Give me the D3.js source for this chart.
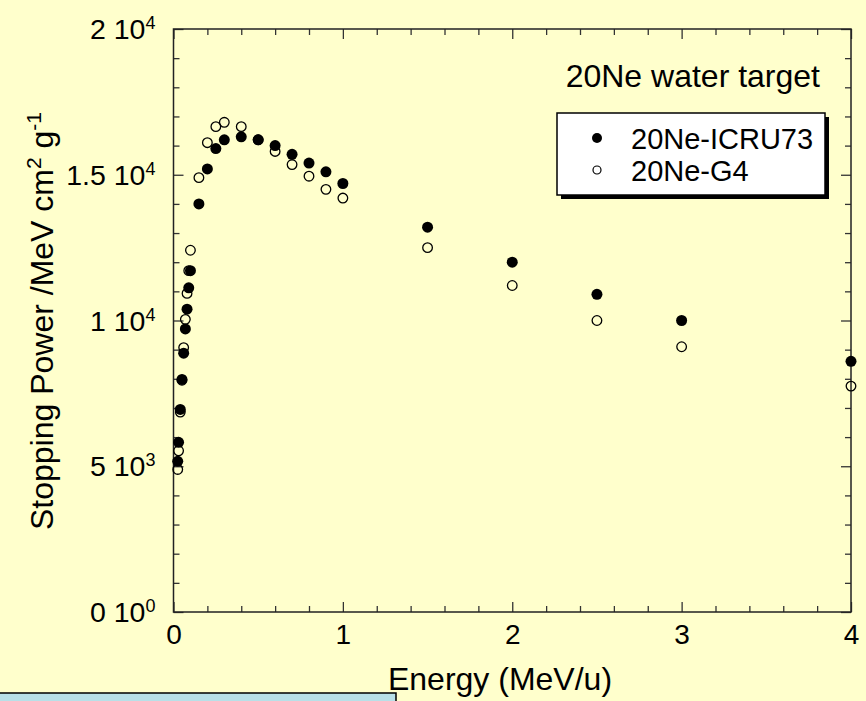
<!DOCTYPE html>
<html>
<head>
<meta charset="utf-8">
<script src="https://cdn.jsdelivr.net/npm/d3@7"></script>
<style>
  html, body { margin: 0; padding: 0; background: #FFFFCC; }
  svg { display: block; }
  text { font-family: "Liberation Sans", Arial, Helvetica, sans-serif; fill: #000; }
</style>
</head>
<body>
<svg id="chart" width="866" height="701"></svg>
<script>
// ---- data ----
const energy = [0.025, 0.03, 0.04, 0.05, 0.06, 0.07, 0.08, 0.09, 0.1, 0.15, 0.2, 0.25, 0.3, 0.4, 0.5, 0.6, 0.7, 0.8, 0.9, 1.0, 1.5, 2, 2.5, 3, 4];
const icru73 = [5170, 5820, 6950, 7980, 8880, 9710, 10390, 11120, 11710, 14000, 15200, 15900, 16200, 16300, 16200, 16000, 15700, 15400, 15100, 14700, 13200, 12000, 10900, 10000, 8600];
const g4 = [4890, 5530, 6860, 7950, 9070, 10040, 10930, 11710, 12410, 14900, 16100, 16650, 16800, 16650, 16200, 15800, 15350, 14950, 14500, 14200, 12500, 11200, 10000, 9100, 7750];

const seriesNames = ["20Ne-ICRU73", "20Ne-G4"];
const titleText = "20Ne water target";
const xTicks = [0, 1, 2, 3, 4];
const xMinorTicks = [0.2, 0.4, 0.6, 0.8, 1.2, 1.4, 1.6, 1.8, 2.2, 2.4, 2.6, 2.8, 3.2, 3.4, 3.6, 3.8];
const yTicks = [0, 5000, 10000, 15000, 20000];
const yTickMant = ["0", "5", "1", "1.5", "2"];
const yTickExp = ["0", "3", "4", "4", "4"];
const yMinorTicks = [1000, 2000, 3000, 4000, 6000, 7000, 8000, 9000, 11000, 12000, 13000, 14000, 16000, 17000, 18000, 19000];

// ---- layout ----
const svg = d3.select("#chart");
const L = 173.5, R = 851, T = 29, B = 612;
const x = d3.scaleLinear().domain([0, 4]).range([L, R]);
const y = d3.scaleLinear().domain([0, 20000]).range([B, T]);

svg.append("rect").attr("width", 866).attr("height", 701).attr("fill", "#FFFFCC");

// axes with inward ticks
function styleAxis(g) {
  g.select(".domain").remove();
  g.selectAll(".tick line").attr("stroke", "#333").attr("stroke-width", 1.3);
}
const gxB = svg.append("g").attr("transform", `translate(0,${B})`)
  .call(d3.axisBottom(x).tickValues(xTicks).tickSize(-10).tickFormat(d3.format("d")));
styleAxis(gxB);
gxB.selectAll(".tick text").attr("y", 32).attr("dy", 0).style("font-size", "28px")
  .style("font-family", '"Liberation Sans", Arial, sans-serif').attr("fill", "#000");
svg.append("g").attr("transform", `translate(0,${B})`)
  .call(d3.axisBottom(x).tickValues(xMinorTicks).tickSize(-6).tickFormat("")).call(styleAxis);
svg.append("g").attr("transform", `translate(0,${T})`)
  .call(d3.axisTop(x).tickValues(xTicks).tickSize(-10).tickFormat("")).call(styleAxis);
svg.append("g").attr("transform", `translate(0,${T})`)
  .call(d3.axisTop(x).tickValues(xMinorTicks).tickSize(-6).tickFormat("")).call(styleAxis);

const gyL = svg.append("g").attr("transform", `translate(${L},0)`)
  .call(d3.axisLeft(y).tickValues(yTicks).tickSize(-10).tickFormat(""));
styleAxis(gyL);
gyL.selectAll(".tick text").each(function(d, i) {
  const t = d3.select(this);
  t.text(null).attr("x", -18).attr("y", 9.5).attr("dy", 0)
    .attr("text-anchor", "end").style("font-size", "28.5px")
    .style("font-family", '"Liberation Sans", Arial, sans-serif').attr("fill", "#000");
  t.append("tspan").text(yTickMant[i] + " 10");
  t.append("tspan").attr("dy", -10).style("font-size", "18px").text(yTickExp[i]);
});
svg.append("g").attr("transform", `translate(${L},0)`)
  .call(d3.axisLeft(y).tickValues(yMinorTicks).tickSize(-6).tickFormat("")).call(styleAxis);
svg.append("g").attr("transform", `translate(${R},0)`)
  .call(d3.axisRight(y).tickValues(yTicks).tickSize(-10).tickFormat("")).call(styleAxis);
svg.append("g").attr("transform", `translate(${R},0)`)
  .call(d3.axisRight(y).tickValues(yMinorTicks).tickSize(-6).tickFormat("")).call(styleAxis);

// frame
svg.append("rect").attr("x", L).attr("y", T).attr("width", R - L).attr("height", B - T)
  .attr("fill", "none").attr("stroke", "#222").attr("stroke-width", 1.5);

// axis titles
svg.append("text").attr("x", 500).attr("y", 690).attr("text-anchor", "middle")
  .style("font-size", "32px").text("Energy (MeV/u)");
const yl = svg.append("text").attr("transform", "translate(53,321) rotate(-90)")
  .attr("text-anchor", "middle").style("font-size", "32px");
yl.append("tspan").text("Stopping Power /MeV cm");
yl.append("tspan").attr("dy", -12).style("font-size", "21px").text("2");
yl.append("tspan").attr("dy", 12).text(" g");
yl.append("tspan").attr("dy", -12).style("font-size", "21px").text("-1");

// data points
const dataG4 = energy.map((e, i) => ({ e, v: g4[i] }));
const dataICRU = energy.map((e, i) => ({ e, v: icru73[i] }));
svg.append("g").selectAll("circle").data(dataG4).join("circle")
  .attr("cx", d => x(d.e)).attr("cy", d => y(d.v)).attr("r", 4.8)
  .attr("fill", "none").attr("stroke", "#000").attr("stroke-width", 1.3);
svg.append("g").selectAll("circle").data(dataICRU).join("circle")
  .attr("cx", d => x(d.e)).attr("cy", d => y(d.v)).attr("r", 5.5)
  .attr("fill", "#000");

// title
svg.append("text").attr("x", 820).attr("y", 87).attr("text-anchor", "end")
  .style("font-size", "32px").text(titleText);

// legend
svg.append("rect").attr("x", 561).attr("y", 117).attr("width", 268).attr("height", 82).attr("fill", "#000");
svg.append("rect").attr("x", 557).attr("y", 113).attr("width", 268).attr("height", 82)
  .attr("fill", "#fff").attr("stroke", "#000").attr("stroke-width", 1.5);
svg.append("circle").attr("cx", 597).attr("cy", 138).attr("r", 5).attr("fill", "#000");
svg.append("circle").attr("cx", 597).attr("cy", 170).attr("r", 4).attr("fill", "none")
  .attr("stroke", "#000").attr("stroke-width", 1.2);
svg.append("text").attr("x", 631).attr("y", 149).style("font-size", "29px").text(seriesNames[0]);
svg.append("text").attr("x", 631).attr("y", 181).style("font-size", "29px").text(seriesNames[1]);

// light blue box at bottom-left
svg.append("rect").attr("x", -2).attr("y", 693).attr("width", 398).attr("height", 20)
  .attr("fill", "#B8E0E8").attr("stroke", "#000").attr("stroke-width", 1.5);
</script>
</body>
</html>
